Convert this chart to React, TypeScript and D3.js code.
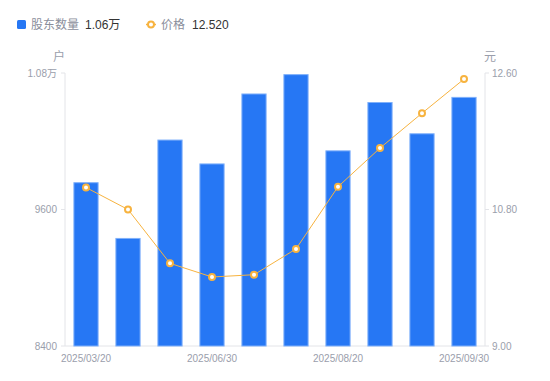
import React from "react";
import * as d3 from "d3";

const dates = ["2025/03/20", "2025/03/31", "2025/04/30", "2025/06/30", "2025/07/10", "2025/07/31", "2025/08/20", "2025/08/31", "2025/09/10", "2025/09/30"];
const holders = [9840, 9350, 10215, 10005, 10620, 10790, 10120, 10545, 10270, 10590];
const prices = [11.09, 10.80, 10.09, 9.91, 9.94, 10.28, 11.10, 11.61, 12.07, 12.52];
const leftTicks = [8400, 9600, 10800];
const leftTickLabels = ["8400", "9600", "1.08万"];
const rightTicks = [9.0, 10.8, 12.6];
const xLabelIdx = [0, 3, 6, 9];

const FONT = "'Liberation Sans', 'Noto Sans CJK SC', Arial, sans-serif";
const GRAY = "#9a9eab";
const AXIS = "#e3e4e8";
const BLUE = "#2677f4";
const ORANGE = "#f7b33f";

export default function App() {
  const W = 550, H = 381;
  const L = 65, R = 485, T = 73, B = 346;
  const x = d3.scaleBand<string>().domain(dates).range([L, R]).paddingInner(0.4).paddingOuter(0.2);
  const yL = d3.scaleLinear().domain([8400, 10800]).range([B, T]);
  const yR = d3.scaleLinear().domain([9, 12.6]).range([B, T]);
  const cx = (d: string) => (x(d) as number) + x.bandwidth() / 2;
  const line = d3.line<number>().x((_, i) => cx(dates[i])).y((v) => yR(v));

  return (
    <svg width={W} height={H} style={{ position: "absolute", left: 0, top: 0 }} fontFamily={FONT}>
      {/* legend */}
      <rect x={17} y={20} width={9} height={9} rx={1.5} fill={BLUE} />
      <text x={31} y={29} fontSize={12} fill="#8a8e9b">股东数量</text>
      <text x={85} y={29} fontSize={12} fill="#333">1.06万</text>
      <line x1={146} x2={156} y1={24.5} y2={24.5} stroke={ORANGE} strokeWidth={1.5} />
      <circle cx={151} cy={24.5} r={3} fill="#fff" stroke={ORANGE} strokeWidth={2} />
      <text x={161} y={29} fontSize={12} fill="#8a8e9b">价格</text>
      <text x={192} y={29} fontSize={12} fill="#333">12.520</text>

      {/* units */}
      <text x={59} y={61} fontSize={12} fill={GRAY} textAnchor="middle">户</text>
      <text x={490} y={61} fontSize={12} fill={GRAY} textAnchor="middle">元</text>

      {/* axes */}
      <line x1={L} x2={L} y1={T} y2={B} stroke={AXIS} />
      <line x1={R} x2={R} y1={T} y2={B} stroke={AXIS} />
      <line x1={L} x2={R} y1={B} y2={B} stroke={AXIS} />
      {leftTicks.map((t, i) => (
        <g key={"l" + t}>
          <line x1={L - 4} x2={L} y1={yL(t)} y2={yL(t)} stroke={AXIS} />
          <text x={57} y={yL(t) + 3.5} fontSize={10} fill={GRAY} textAnchor="end">{leftTickLabels[i]}</text>
        </g>
      ))}
      {rightTicks.map((t) => (
        <g key={"r" + t}>
          <line x1={R} x2={R + 4} y1={yR(t)} y2={yR(t)} stroke={AXIS} />
          <text x={492} y={yR(t) + 3.5} fontSize={10} fill={GRAY}>{t.toFixed(2)}</text>
        </g>
      ))}
      {xLabelIdx.map((i) => (
        <text key={"x" + i} x={cx(dates[i])} y={362} fontSize={10} fill={GRAY} textAnchor="middle">{dates[i]}</text>
      ))}

      {/* bars */}
      {holders.map((v, i) => (
        <rect key={"b" + i} x={(x(dates[i]) as number) + 0.5} y={yL(v) + 0.5} width={x.bandwidth() - 1} height={B - yL(v) - 0.5}
          fill={BLUE} stroke="#7fb0fa" strokeWidth={1} />
      ))}

      {/* line */}
      <path d={line(prices) || ""} fill="none" stroke={ORANGE} strokeWidth={1} />
      {prices.map((v, i) => (
        <circle key={"p" + i} cx={cx(dates[i])} cy={yR(v)} r={3} fill="#fff" stroke={ORANGE} strokeWidth={2} />
      ))}
    </svg>
  );
}
